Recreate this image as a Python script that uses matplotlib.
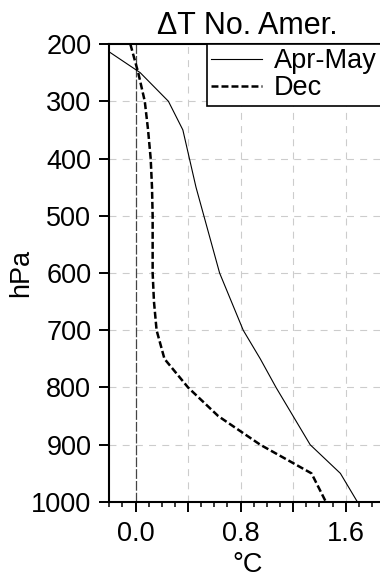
import numpy as np
import matplotlib.pyplot as plt
from matplotlib.ticker import FixedLocator, FuncFormatter, MultipleLocator

plt.rcParams['font.family'] = ['Liberation Sans', 'DejaVu Sans']
plt.rcParams['lines.scale_dashes'] = False

# pressure levels (hPa) and temperature change (deg C)
levels = [200, 250, 300, 350, 400, 450, 500, 550, 600, 650, 700, 750, 800, 850, 900, 950, 1000]
dt_aprmay = [-0.29, 0.035, 0.25, 0.36, 0.41, 0.46, 0.52, 0.58, 0.64, 0.73, 0.82, 0.95, 1.07, 1.20, 1.33, 1.56, 1.69]
dt_dec = [-0.04, 0.02, 0.07, 0.095, 0.115, 0.125, 0.13, 0.13, 0.13, 0.14, 0.16, 0.22, 0.40, 0.63, 0.95, 1.34, 1.45]

FS = 19.5

fig = plt.figure(figsize=(3.8, 5.77), dpi=100)
ax = fig.add_axes([0.2877, 0.130, 0.7255, 0.7937])

# reference grid and zero line
for x in [0.4, 0.8, 1.2, 1.6]:
    ax.axvline(x, color='#cccccc', lw=0.8, dashes=(5, 4.5), zorder=1)
for p in range(300, 1000, 100):
    ax.axhline(p, color='#cccccc', lw=0.8, dashes=(5, 4.5), zorder=1)
ax.axvline(0.0, color='#444444', lw=0.9, dashes=(7, 1.5), zorder=2)

ax.plot(dt_aprmay, levels, color='black', lw=0.8, label='Apr-May', zorder=3)
ax.plot(dt_dec, levels, color='black', lw=1.8, dashes=(5, 2.2), label='Dec', zorder=3)

ax.set_xlim(-0.2, 1.9)
ax.set_ylim(1000, 200)

ax.xaxis.set_major_locator(FixedLocator([0.0, 0.4, 0.8, 1.2, 1.6]))
ax.xaxis.set_minor_locator(MultipleLocator(0.1))
ax.xaxis.set_major_formatter(FuncFormatter(
    lambda v, pos: f"{v:.1f}" if abs(round(v / 0.8) * 0.8 - v) < 1e-6 else ""))
ax.yaxis.set_major_locator(MultipleLocator(100))

ax.tick_params(axis='both', which='major', direction='out', length=7, width=1.4,
               labelsize=FS, pad=6)
ax.tick_params(axis='x', which='minor', direction='out', length=3.5, width=1.1)
ax.tick_params(axis='x', which='major', pad=7)
for s in ax.spines.values():
    s.set_linewidth(1.5)

ax.set_xlabel('°C', fontsize=FS, labelpad=3)
ax.set_ylabel('hPa', fontsize=FS)
ax.yaxis.set_label_coords(-0.272, 0.5)
ax.set_title('ΔT No. Amer.', fontsize=22, pad=7)

leg = ax.legend(loc='upper left', bbox_to_anchor=(0.3555, 1.0), borderaxespad=0,
                fontsize=FS, handlelength=1.85, handletextpad=0.45,
                labelspacing=0.05, borderpad=0.15, fancybox=False, framealpha=1)
leg.get_frame().set_edgecolor('black')
leg.get_frame().set_linewidth(1.2)

fig.savefig('out.png', dpi=100)
